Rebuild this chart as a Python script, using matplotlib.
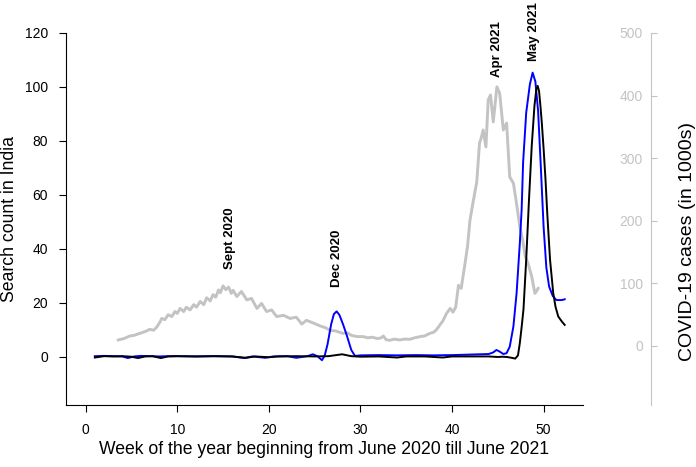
import matplotlib
matplotlib.use('Agg')
from matplotlib import pyplot as plt

plt.rcParams['font.family'] = ['Liberation Sans', 'DejaVu Sans']

# covid cases (in 1000s), daily points placed on the week axis
covid_weeks = [3.56, 4.2, 4.84, 5.3, 5.93, 6.47, 7.0, 7.4, 7.75, 8.1, 8.3, 8.65, 9.0, 9.4, 9.75, 10.0,
               10.3, 10.7, 11.0, 11.4, 11.8, 12.1, 12.5, 12.9, 13.2, 13.6, 13.9, 14.2, 14.5, 14.7, 15.0,
               15.3, 15.6, 15.9, 16.1, 16.5, 17.0, 17.6, 18.1, 18.7, 19.2, 19.75, 20.3, 20.85, 21.6, 22.3,
               23.0, 23.6, 24.1, 24.8, 25.6, 26.2, 26.7, 27.3, 28.1, 28.6, 29.0, 29.6, 30.3, 30.8, 31.3,
               31.8, 32.2, 32.5, 32.8, 33.2, 33.7, 34.3, 34.8, 35.4, 35.9, 36.5, 37.0, 37.6, 38.0, 38.3,
               38.7, 39.0, 39.4, 39.8, 40.1, 40.4, 40.7, 41.0, 41.4, 41.7, 41.95, 42.3, 42.7, 43.0, 43.2,
               43.4, 43.7, 43.95, 44.2, 44.5, 44.9, 45.2, 45.6, 45.96, 46.3, 46.7, 47.0, 47.4, 47.7, 48.0,
               48.3, 48.7, 49.05, 49.25, 49.4]
covid_cases = [9.6, 12, 16, 17, 20.3, 22.9, 26.6, 25, 29.9, 38, 44, 42, 50, 47, 55, 52,
               60, 55, 62, 57.6, 66, 62, 71, 66, 77, 72, 82, 78, 89.5, 85, 96,
               90, 94, 84, 89, 79, 87, 73.6, 76, 60, 68, 55, 57.6, 47, 49, 44,
               46, 35, 41, 37, 32, 29, 25, 24, 20, 21, 17, 15, 15, 13, 14,
               12, 12.5, 16, 10, 9, 11, 9.6, 11, 10.7, 13, 14.9, 16, 20.3, 22, 26,
               34, 40, 52, 60, 54, 62, 97, 92, 130, 160, 200, 230, 262, 324, 333,
               345, 318, 393, 401, 358, 414, 404, 345, 356, 270, 260, 232, 191, 170, 143,
               132, 111, 84, 88, 92]

# search counts
search_weeks_a = [1, 2, 3, 4, 4.6, 5.3, 6, 7, 8, 9, 10, 12, 14, 16, 17.3, 18.2, 19.6, 20.5, 22, 23, 24,
                  24.3, 24.8, 25.3, 25.8, 26.1, 26.4, 26.8, 27.1, 27.4, 27.7, 28.1, 28.5, 29.0, 29.4,
                  30, 32, 34, 36, 38, 40, 42, 44.0, 44.5, 44.85, 45.2, 45.6, 45.95, 46.3, 46.7, 47.05,
                  47.4, 47.6, 47.76, 48.1, 48.5, 48.8, 49.1, 49.4, 49.7, 50.0, 50.3, 50.6, 51.0, 51.4,
                  52.0, 52.3]
search_a = [0.2, 0.3, 0.2, 0.1, -0.5, 0.1, 0.3, 0.2, 0.1, 0.2, 0.2, 0.1, 0.2, 0.1, -0.5, 0.1, -0.4, 0.1,
            0.2, -0.4, 0.1, 0.3, 0.9, 0.2, -1.3, 0.5, 4.5, 12, 15.8, 16.8, 15.5, 12.0, 8, 2.5, 0.3,
            0.5, 0.6, 0.5, 0.6, 0.5, 0.6, 0.8, 1.0, 1.6, 2.5, 1.9, 1.0, 1.3, 3.7, 11.2, 23.6,
            42, 54.5, 72, 90.5, 101, 105.3, 102, 91, 70, 48, 33, 26, 22.5, 21, 21, 21.3]

search_weeks_b = [1, 2, 3, 4, 5, 5.7, 6.5, 7.3, 8.2, 9, 10, 12, 14, 16, 17.5, 18.5, 20, 21, 23, 25,
                  26.5, 28, 29, 30, 32, 34, 35, 37, 39, 40, 42, 44, 45, 45.5, 46.0, 46.5, 46.9, 47.2,
                  47.4, 47.6, 47.8, 48.1, 48.4, 48.7, 49.0, 49.2, 49.35, 49.5, 49.65, 49.8, 50.0, 50.2,
                  50.4, 50.7, 51.05, 51.3, 51.6, 52.0, 52.3]
search_b = [-0.3, 0.2, 0.1, 0.2, 0, -0.5, 0.1, 0.2, -0.5, 0.1, 0.2, 0.1, 0.2, 0.1, -0.4, 0.1, -0.2, 0.1,
            0.2, 0.1, 0.2, 0.9, 0.2, 0, 0.1, -0.3, 0.1, 0.1, -0.3, 0.1, 0.1, 0.1, -0.1, 0, -0.1, -0.4,
            -0.7, 0.5, 5, 11, 17.5, 36, 58, 78, 93, 99, 100.4, 98.5, 93, 86.8, 77, 66,
            53, 36, 23.6, 18.5, 14.9, 13, 11.8]

labels = ['Sept 2020', 'Dec 2020', 'Apr 2021', 'May 2021']
label_weeks = [15.75, 27.45, 44.95, 48.95]
label_heights = [32.6, 25.9, 103.6, 109.6]

GRAY = '#c3c3c3'


def main():
    fig = plt.figure(figsize=(6.96, 4.67), dpi=100)
    ax: plt.Axes = fig.add_axes([66 / 696, 1 - 405 / 467, 517 / 696, 372 / 467])
    ax2: plt.Axes = ax.twinx()

    # gray cases curve goes underneath
    ax.set_zorder(ax2.get_zorder() + 1)
    ax.patch.set_visible(False)

    ax2.plot(covid_weeks, covid_cases, color=GRAY, lw=2.1)
    ax.plot(search_weeks_a, search_a, color='#0000ff', lw=1.4)
    ax.plot(search_weeks_b, search_b, color='black', lw=1.4)

    for text, x, y in zip(labels, label_weeks, label_heights):
        ax.text(x, y, text, rotation=90, ha='center', va='bottom', fontsize=9.5, fontweight='bold')

    ax.set_xlim(-2.15, 54.3)
    ax.set_ylim(-17.9, 120)
    ax.set_xticks(range(0, 51, 10))
    ax.set_yticks(range(0, 121, 20))
    ax.spines['top'].set_visible(False)
    ax.spines['right'].set_visible(False)
    ax.tick_params(labelsize=10, length=5, width=0.8, pad=8)
    ax.set_xlabel('Week of the year beginning from June 2020 till June 2021', fontsize=12.7)
    ax.set_ylabel('Search count in India', fontsize=12.7)
    ax.xaxis.set_label_coords(0.5, -0.097)
    ax.yaxis.set_label_coords(-0.092, 0.5)

    # second axis: drawn with its left spine moved out past the plot, ticks pointing right
    ax2.set_ylim(-94.3, 500)
    ax2.set_yticks(range(0, 501, 100))
    for side in ['top', 'right', 'bottom']:
        ax2.spines[side].set_visible(False)
    ax2.spines['left'].set_visible(True)
    ax2.spines['left'].set_position(('axes', 1 + 68 / 517))
    ax2.spines['left'].set_color(GRAY)
    ax2.yaxis.set_ticks_position('left')
    ax2.tick_params(axis='y', colors=GRAY, labelsize=10, length=4, width=0.8,
                    direction='in', pad=5.8)
    ax2.set_ylabel('COVID-19 cases (in 1000s)', fontsize=14, color='black')
    ax2.yaxis.set_label_position('right')
    ax2.yaxis.set_label_coords(1.186, 0.44)

    plt.savefig('out.png', dpi=100)


if __name__ == '__main__':
    main()
